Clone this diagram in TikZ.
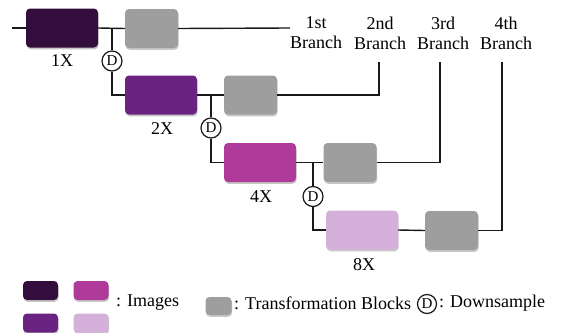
\documentclass[tikz,border=0pt]{standalone}
\usepackage{fontspec}
\setmainfont{Liberation Serif}
\usetikzlibrary{shadows}
\definecolor{cA}{RGB}{51,13,59}
\definecolor{cB}{RGB}{106,35,128}
\definecolor{cC}{RGB}{176,58,154}
\definecolor{cD}{RGB}{213,176,219}
\definecolor{cG}{RGB}{158,158,158}
\definecolor{ln}{RGB}{25,25,25}
\tikzset{
  blk/.style={rounded corners=4pt, inner sep=0pt, draw=none,
    drop shadow={shadow xshift=0.6pt, shadow yshift=-1.8pt, opacity=0.22, fill=black}},
  img/.style={blk, minimum width=72pt, minimum height=39pt},
  tb/.style={blk, fill=cG, minimum width=53pt, minimum height=39pt},
  lg/.style={blk, minimum width=35pt, minimum height=19pt},
  dcirc/.style={circle, draw=ln, line width=1.2pt, fill=white, inner sep=0pt, minimum size=20pt, font=\fontsize{15}{15}\selectfont},
  lbl/.style={font=\fontsize{18}{20}\selectfont, inner sep=0pt},
  br/.style={font=\fontsize{18}{20}\selectfont, align=center, inner sep=0pt},
  wire/.style={draw=ln, line width=1.4pt},
}
\begin{document}
\begin{tikzpicture}[x=1pt,y=-1pt]
\useasboundingbox (0,0) rectangle (564,332);
% nodes
\node[img, fill=cA] (i1) at (62,28) {};
\node[tb] (g1) at (151.5,28.5) {};
\node[img, fill=cB] (i2) at (161,95) {};
\node[tb] (g2) at (250.5,95) {};
\node[img, fill=cC] (i3) at (260,162.5) {};
\node[tb] (g3) at (350,162.5) {};
\node[img, fill=cD] (i4) at (362,230) {};
\node[tb] (g4) at (451.5,230.5) {};
\node[lbl] (l1) at (62,61) {1X};
\node[lbl] (l2) at (162,129) {2X};
\node[lbl] (l3) at (261,197) {4X};
\node[lbl] (l4) at (364,265) {8X};
\node[br] (b1) at (316,33) {1st\\Branch};
\node[br] (b2) at (380,33) {2nd\\Branch};
\node[br] (b3) at (443,33) {3rd\\Branch};
\node[br] (b4) at (506,33) {4th\\Branch};
% coordinates
\coordinate (s0) at (12,28);
\coordinate (e1) at (290,28);
\coordinate (k1) at (112,28);
\coordinate (k2) at (211,95);
\coordinate (k3) at (313,162.5);
\coordinate (t2) at (379,62);
\coordinate (t3) at (440,62);
\coordinate (t4) at (502,62);
% wires
\draw[wire] (s0) -- (i1.west);
\draw[wire] (i1.east) -- (g1.west);
\draw[wire] (g1.east) -- (e1);
\draw[wire] (i2.east) -- (g2.west);
\draw[wire] (i3.east) -- (g3.west);
\draw[wire] (i4.east) -- (g4.west);
\draw[wire] (g2.east) -| (t2);
\draw[wire] (g3.east) -| (t3);
\draw[wire] (g4.east) -| (t4);
\node[dcirc] (d1) at (112,61) {D};
\node[dcirc] (d2) at (211,128) {D};
\node[dcirc] (d3) at (313,196.5) {D};
\draw[wire] (k1) -- (d1.north);
\draw[wire] (d1.south) |- (i2.west);
\draw[wire] (k2) -- (d2.north);
\draw[wire] (d2.south) |- (i3.west);
\draw[wire] (k3) -- (d3.north);
\draw[wire] (d3.south) |- (i4.west);
% legend
\node[lg, fill=cA] (la) at (40.5,290.5) {};
\node[lg, fill=cC] (lc) at (91,290.5) {};
\node[lg, fill=cB] (lb) at (40.5,323) {};
\node[lg, fill=cD] (ld) at (91,323) {};
\node[lbl, anchor=west] (ti) at (116,303) {: Images};
\node[blk, fill=cG, minimum width=26pt, minimum height=18pt] (lgr) at (218.5,306) {};
\node[lbl, anchor=west] (tt) at (234,303) {: Transformation Blocks};
\node[dcirc, minimum size=19pt] (ldc) at (427,304) {D};
\node[lbl, anchor=west] (td) at (439,303) {: Downsample};
\end{tikzpicture}
\end{document}
